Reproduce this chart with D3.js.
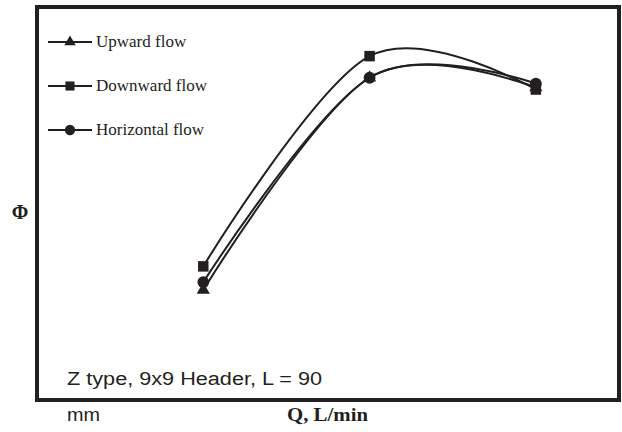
<!DOCTYPE html>
<html>
<head>
<meta charset="utf-8">
<script src="https://cdn.jsdelivr.net/npm/d3@7"></script>
<style>
  body { margin: 0; background: #fff; }
  svg { display: block; }
</style>
</head>
<body>
<div id="chart"></div>
<script>
// flow rate, L/min (no tick labels in the original)
let flowRates = [2, 4, 6]
let seriesNames = ["Upward flow", "Downward flow", "Horizontal flow"]
let upwardPhi = [0.28, 0.82, 0.795]
let downwardPhi = [0.34, 0.875, 0.79]
let horizontalPhi = [0.30, 0.82, 0.805]

var width = 622, height = 432
var frame = { left: 37, right: 619, top: 7, bottom: 400 }

var svg = d3.select("#chart")
    .append("svg")
    .attr("width", width)
    .attr("height", height)

var x = d3.scaleLinear().domain([0, 7]).range([frame.left, frame.right])
var y = d3.scaleLinear().domain([0, 1]).range([frame.bottom, frame.top])

let series = [
    { name: seriesNames[0], values: upwardPhi, shape: d3.symbolTriangle, size: 75 },
    { name: seriesNames[1], values: downwardPhi, shape: d3.symbolSquare, size: 110 },
    { name: seriesNames[2], values: horizontalPhi, shape: d3.symbolCircle, size: 110 }
]

var line = d3.line()
    .x(function (d) { return x(d[0]) })
    .y(function (d) { return y(d[1]) })
    .curve(d3.curveCardinal.tension(0))

series.forEach(function (s) {
    let pts = flowRates.map((q, i) => [q, s.values[i]])
    svg.append("path")
        .attr("d", line(pts))
        .attr("fill", "none")
        .attr("stroke", "#231f20")
        .attr("stroke-width", 2)
    svg.selectAll(null)
        .data(pts)
        .enter()
        .append("path")
        .attr("transform", function (d) { return "translate(" + x(d[0]) + "," + y(d[1]) + ")" })
        .attr("d", d3.symbol().type(s.shape).size(s.size))
        .attr("fill", "#231f20")
})

// frame
svg.append("rect")
    .attr("x", frame.left)
    .attr("y", frame.top)
    .attr("width", frame.right - frame.left)
    .attr("height", frame.bottom - frame.top)
    .attr("fill", "none")
    .attr("stroke", "#231f20")
    .attr("stroke-width", 4)

// legend
let legend = svg.selectAll(".legend")
    .data(series)
    .enter()
    .append("g")
    .attr("transform", function (d, i) { return "translate(48," + (42 + i * 44) + ")" })

legend.append("line")
    .attr("x1", 0).attr("x2", 44)
    .attr("stroke", "#231f20")
    .attr("stroke-width", 2)
legend.append("path")
    .attr("transform", "translate(22,0)")
    .attr("d", function (d) { return d3.symbol().type(d.shape).size(d.size * 0.75)() })
    .attr("fill", "#231f20")
legend.append("text")
    .attr("x", 48)
    .attr("y", 5)
    .attr("font-family", "Liberation Serif, serif")
    .attr("font-size", 17)
    .attr("fill", "#231f20")
    .text(function (d) { return d.name })

// labels
svg.append("text")
    .attr("x", 20).attr("y", 219)
    .attr("text-anchor", "middle")
    .attr("font-family", "Liberation Serif, serif")
    .attr("font-weight", "bold")
    .attr("font-size", 20)
    .attr("fill", "#231f20")
    .text("Φ")

svg.append("text")
    .attr("x", 287).attr("y", 421)
    .attr("font-family", "Liberation Serif, serif")
    .attr("font-weight", "bold")
    .attr("font-size", 18)
    .attr("textLength", 81)
    .attr("lengthAdjust", "spacingAndGlyphs")
    .attr("fill", "#231f20")
    .text("Q, L/min")

svg.append("text")
    .attr("x", 67).attr("y", 385)
    .attr("font-family", "Liberation Sans, Arial, sans-serif")
    .attr("font-size", 18)
    .attr("textLength", 255)
    .attr("lengthAdjust", "spacingAndGlyphs")
    .attr("fill", "#231f20")
    .text("Z type, 9x9 Header, L = 90")

svg.append("text")
    .attr("x", 67).attr("y", 421)
    .attr("font-family", "Liberation Sans, Arial, sans-serif")
    .attr("font-size", 18)
    .attr("textLength", 33)
    .attr("lengthAdjust", "spacingAndGlyphs")
    .attr("fill", "#231f20")
    .text("mm")
</script>
</body>
</html>
